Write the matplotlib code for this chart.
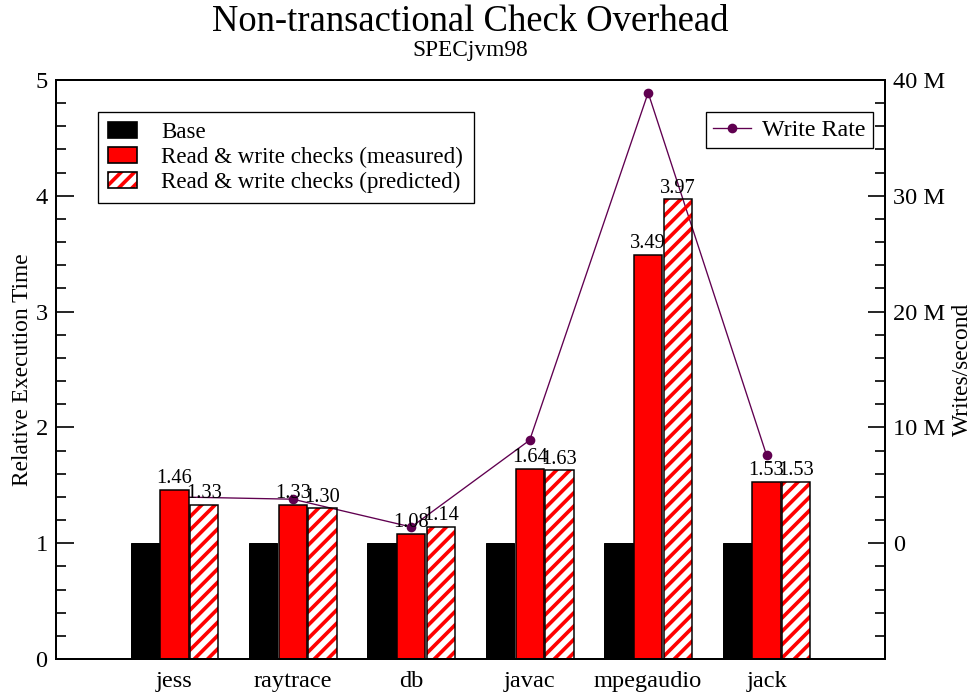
import numpy as np
import matplotlib
matplotlib.use("Agg")
import matplotlib.pyplot as plt
from matplotlib.patches import Patch
from matplotlib.lines import Line2D
from matplotlib.ticker import MultipleLocator, FuncFormatter

plt.rcParams['font.family'] = ['Liberation Serif', 'DejaVu Serif']
plt.rcParams['hatch.linewidth'] = 2.2

# data
benchmarks = ['jess', 'raytrace', 'db', 'javac', 'mpegaudio', 'jack']
base = [1, 1, 1, 1, 1, 1]
measured = [1.46, 1.33, 1.08, 1.64, 3.49, 1.53]
predicted = [1.33, 1.30, 1.14, 1.63, 3.97, 1.53]
write_rate = [4.0, 3.8, 1.4, 8.9, 38.9, 7.6]  # millions of writes / second

purple = '#600050'
dpi = 120
fig = plt.figure(figsize=(973 / dpi, 696 / dpi), dpi=dpi)
ax = fig.add_axes([56 / 973, 1 - 659 / 696, 829 / 973, 579 / 696])
ax2 = ax.twinx()
ax.set_zorder(ax2.get_zorder() + 1)
ax.patch.set_visible(False)

x = np.arange(1, len(benchmarks) + 1)
w = 0.24
step = 0.25

ax.bar(x - step, base, w, color='black', edgecolor='black', linewidth=0.6)
ax.bar(x, measured, w, color='red', edgecolor='black', linewidth=0.9)
ax.bar(x + step, predicted, w, facecolor='none', edgecolor='red', hatch='///', linewidth=0)
ax.bar(x + step, predicted, w, fill=False, edgecolor='black', linewidth=0.9)

for xi, v in zip(x, measured):
    ax.annotate('%.2f' % v, (xi, v), xytext=(0, 1), textcoords='offset points',
                ha='center', va='bottom', fontsize=12.2)
for xi, v in zip(x + step, predicted):
    ax.annotate('%.2f' % v, (xi, v), xytext=(0, 1), textcoords='offset points',
                ha='center', va='bottom', fontsize=12.2)

ax2.plot(x, write_rate, color=purple, lw=0.8, marker='o', markersize=4.8)

ax.set_xlim(0, 7)
ax.set_ylim(0, 5)
ax2.set_ylim(-10, 40)

ax.set_xticks(x)
ax.set_xticklabels(benchmarks, fontsize=14.6)
ax.tick_params(axis='x', length=0, pad=7)
ax.yaxis.set_major_locator(MultipleLocator(1))
ax.yaxis.set_minor_locator(MultipleLocator(0.2))
ax.tick_params(axis='y', which='both', direction='in', right=False, labelsize=14.6, pad=5)
ax.tick_params(axis='y', which='major', length=10.5, width=1)
ax.tick_params(axis='y', which='minor', length=6, width=1)

ax2.yaxis.set_minor_locator(MultipleLocator(2))
ax2.yaxis.set_major_formatter(FuncFormatter(lambda v, p: '0' if v == 0 else '%d M' % v))
ax2.set_yticks([0, 10, 20, 30, 40])
ax2.tick_params(axis='y', which='both', direction='in', labelsize=14.6, pad=5)
ax2.tick_params(axis='y', which='major', length=10.5, width=1)
ax2.tick_params(axis='y', which='minor', length=6, width=1)

for a in (ax, ax2):
    for s in a.spines.values():
        s.set_linewidth(1.2)

ax.set_ylabel('Relative Execution Time', fontsize=14, va='center')
ax.yaxis.set_label_coords(-0.04, 0.5)
ax2.set_ylabel('Writes/second', fontsize=14, va='center')
ax2.yaxis.set_label_coords(1.094, 0.5)

h1 = [Patch(facecolor='black', edgecolor='black'),
      Patch(facecolor='red', edgecolor='black'),
      (Patch(facecolor='white', edgecolor='red', hatch='///', linewidth=0),
       Patch(fill=False, edgecolor='black'))]
leg1 = ax.legend(h1, ['Base', 'Read & write checks (measured)', 'Read & write checks (predicted)'],
                 loc='upper left', bbox_to_anchor=(0.0507, 0.9447), fontsize=13.8,
                 fancybox=False, edgecolor='black', framealpha=1, borderaxespad=0,
                 handlelength=1.25, handleheight=0.7, handletextpad=1.05, labelspacing=0.15,
                 borderpad=0.45)
leg1.get_frame().set_linewidth(0.8)

h2 = [Line2D([], [], color=purple, lw=0.8, marker='o', markersize=4.8)]
leg2 = ax2.legend(h2, ['Write Rate'], loc='upper right', bbox_to_anchor=(0.9855, 0.9447),
                  fontsize=14.4, fancybox=False, edgecolor='black', framealpha=1,
                  borderaxespad=0, handlelength=1.6, handletextpad=0.45, borderpad=0.3)
leg2.get_frame().set_linewidth(0.8)

cx = (56 + 829 / 2) / 973
fig.text(cx, 1 - 31 / 696, 'Non-transactional Check Overhead', ha='center', va='baseline', fontsize=22)
fig.text(cx, 1 - 56 / 696, 'SPECjvm98', ha='center', va='baseline', fontsize=14)

fig.savefig('out.png', dpi=dpi)
